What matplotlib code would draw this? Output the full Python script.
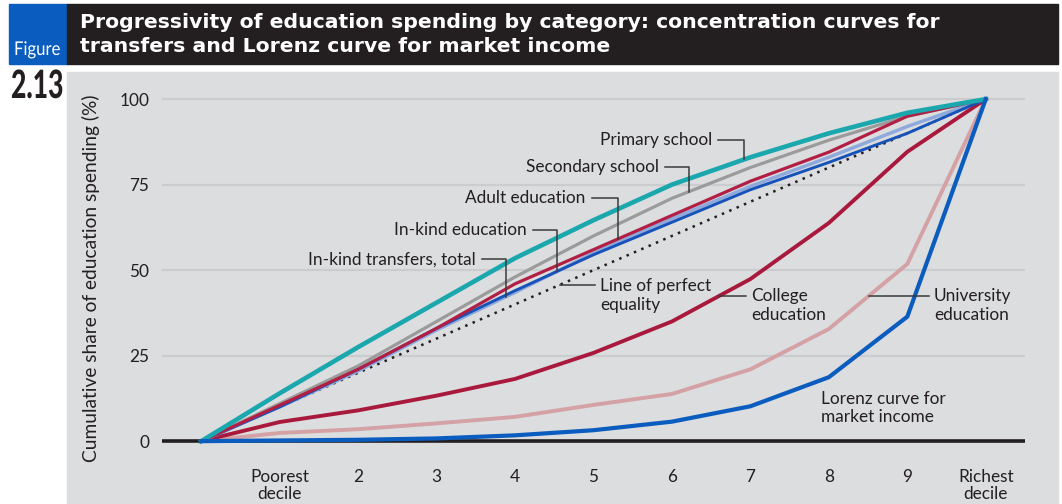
import matplotlib
matplotlib.use("Agg")
import matplotlib.pyplot as plt
from matplotlib.patches import Rectangle, PathPatch
from matplotlib.textpath import TextPath
from matplotlib.font_manager import FontProperties
from matplotlib.transforms import Affine2D
import numpy as np

plt.rcParams['font.family'] = ['Lato', 'DejaVu Sans']

# deciles 0..10 (0 = origin)
deciles = np.arange(0, 11)
xtick_labels = ["Poorest\ndecile", "2", "3", "4", "5", "6", "7", "8", "9", "Richest\ndecile"]

primary = [0, 14, 27.5, 40.5, 53.5, 64.6, 75, 83, 90, 96, 100]
secondary = [0, 11, 22, 35, 48, 60, 71, 80, 88, 95, 100]
adult = [0, 10.5, 21, 33, 46, 56, 66, 76, 84.5, 95, 100]
inkind_edu = [0, 10, 21, 33, 44, 54.5, 64, 73.5, 81.5, 90, 100]
inkind_total = [0, 10, 20.5, 32.5, 43.5, 55, 65, 74.5, 83, 92, 100]
equality = [0, 10, 20, 30, 40, 50, 60, 70, 80, 90, 100]
college = [0, 5.6, 9, 13.3, 18.2, 25.8, 35, 47.4, 63.8, 84.6, 100]
university = [0, 2.4, 3.5, 5.2, 7.1, 10.6, 13.8, 21, 32.8, 51.8, 100]
lorenz = [0, 0.2, 0.4, 0.8, 1.7, 3.2, 5.7, 10.2, 18.7, 36.4, 100]

W, H = 1062, 504
fig = plt.figure(figsize=(W / 100, H / 100), dpi=100)

def fx(px):
    return px / W

def fy(py):
    return 1 - py / H

# header bar, figure tag and grey panel
for (x0, y0, w, h, c) in [(9, 4, 58, 60, '#0a5cbf'), (67, 4, 991, 60, '#231f20'),
                          (67, 72, 991, 432, '#dcdddf')]:
    fig.patches.append(Rectangle((fx(x0), fy(y0 + h)), w / W, h / H,
                                 transform=fig.transFigure, color=c, zorder=-5))

# condensed lettering: text outline squeezed horizontally (pixel coords)
def narrow_text(s, x_px, base_px, size, squeeze, color, weight):
    path = TextPath((0, 0), s, size=size, prop=FontProperties(family='Lato', weight=weight))
    tr = Affine2D().scale(squeeze, 1).translate(x_px, H - base_px)
    fig.add_artist(PathPatch(path, transform=tr, facecolor=color, edgecolor='none'))

narrow_text("Figure", 14, 55, 19, 0.88, 'white', 'normal')
narrow_text("2.13", 11, 98, 39, 0.68, '#231f20', 'black')

title_font = dict(color='white', fontsize=14.7, fontweight='bold', ha='left', va='center',
                  family=['DejaVu Sans'])
fig.text(fx(80), fy(22), "Progressivity of education spending by category: concentration curves for",
         **title_font)
fig.text(fx(80), fy(47), "transfers and Lorenz curve for market income", **title_font)

ax_top, ax_bot = 82, 448
ax = fig.add_axes([fx(162), fy(ax_bot), fx(1025 - 162), (ax_bot - ax_top) / H])
ax.set_facecolor('none')
ax.set_xlim(-0.5, 10.5)
ax.set_ylim(-2, 105)
for s in ax.spines.values():
    s.set_visible(False)

for g in [25, 50, 75, 100]:
    ax.axhline(g, color='#cbccce', lw=1.6, zorder=1)
ax.axhline(0, color='#231f20', lw=2.6, zorder=2)

ax.set_yticks([0, 25, 50, 75, 100])
ax.set_xticks(deciles[1:])
ax.set_xticklabels(xtick_labels)
ax.tick_params(length=0, labelsize=12.4, colors='#231f20')
ax.tick_params(axis='x', pad=15)
ax.tick_params(axis='y', pad=9)
for lab in ax.get_xticklabels():
    lab.set_linespacing(1.1)
ax.set_ylabel("Cumulative share of education spending (%)", fontsize=13.8, color='#231f20')
ax.yaxis.set_label_coords(-0.072, 0.464)

ax.plot(deciles, equality, color='#231f20', lw=1.8, ls=(0, (1, 2.2)), zorder=3)
ax.plot(deciles, university, color='#d4a1a4', lw=2.8, zorder=4)
ax.plot(deciles, college, color='#a8193c', lw=2.8, zorder=4)
ax.plot(deciles, secondary, color='#9b9b9b', lw=2.3, zorder=4)
ax.plot(deciles, inkind_total, color='#8eaadd', lw=2.5, zorder=5)
ax.plot(deciles, inkind_edu, color='#1652b8', lw=2.1, zorder=5)
ax.plot(deciles, adult, color='#b21f45', lw=2.3, zorder=5)
ax.plot(deciles, primary, color='#1aa7ad', lw=3.3, zorder=6)
ax.plot(deciles, lorenz, color='#0a5cbf', lw=3.0, zorder=6, clip_on=False)

txt = dict(fontsize=12.4, color='#231f20')
lead = dict(color='#3a3a3a', lw=1.1, zorder=7)

# elbow leaders: text -> horizontal -> down to curve
def elbow(label, series, tx, ty, xend):
    ax.text(tx, ty, label, ha='right', va='center', **txt)
    yend = np.interp(xend, deciles, series)
    ax.plot([tx + 0.08, xend, xend], [ty, ty, yend], **lead)

elbow("Primary school", primary, 6.51, 88.0, 6.92)
elbow("Secondary school", secondary, 5.83, 80.1, 6.22)
elbow("Adult education", adult, 4.90, 71.1, 5.31)
elbow("In-kind education", inkind_edu, 4.15, 61.7, 4.54)
elbow("In-kind transfers, total", inkind_total, 3.50, 53.2, 3.89)

# horizontal leaders to labels on the right
ax.plot([4.57, 5.02], [45.7, 45.7], **lead)
ax.text(5.08, 47.6, "Line of perfect\nequality", ha='left', va='top', linespacing=1.2, **txt)

y_col = 42.4
x_col = np.interp(y_col, college, deciles)
ax.plot([x_col, 6.95], [y_col, y_col], **lead)
ax.text(7.01, y_col + 2.3, "College\neducation", ha='left', va='top', linespacing=1.2, **txt)

x_uni = np.interp(y_col, university, deciles)
ax.plot([x_uni, 9.28], [y_col, y_col], **lead)
ax.text(9.34, y_col + 2.3, "University\neducation", ha='left', va='top', linespacing=1.2, **txt)

ax.text(7.90, 14.8, "Lorenz curve for\nmarket income", ha='left', va='top', linespacing=1.2, **txt)

fig.savefig("out.png", dpi=100)
